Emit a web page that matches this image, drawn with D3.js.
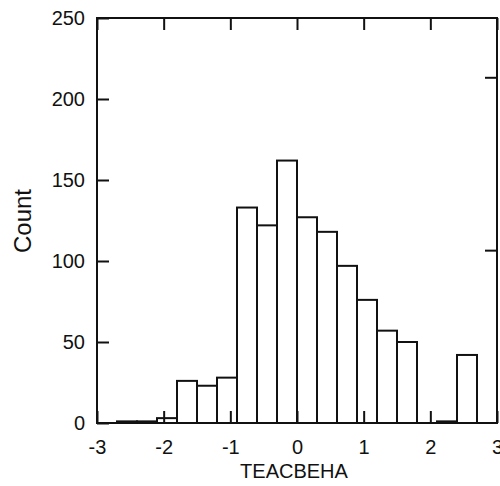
<!DOCTYPE html>
<html>
<head>
<meta charset="utf-8">
<script src="https://cdn.jsdelivr.net/npm/d3@7"></script>
<style>
  html, body { margin: 0; padding: 0; background: #fff; }
  svg { display: block; }
  text { font-family: "Liberation Sans", Arial, sans-serif; fill: #111; }
</style>
</head>
<body>
<svg id="chart" width="500" height="486"></svg>
<script>
// ---- data ----
const binStart = [-3.0, -2.7, -2.4, -2.1, -1.8, -1.5, -1.2, -0.9, -0.6, -0.3, 0.0, 0.3, 0.6, 0.9, 1.2, 1.5, 1.8, 2.1, 2.4, 2.7];
const binEnd   = [-2.7, -2.4, -2.1, -1.8, -1.5, -1.2, -0.9, -0.6, -0.3, 0.0, 0.3, 0.6, 0.9, 1.2, 1.5, 1.8, 2.1, 2.4, 2.7, 3.0];
const counts   = [0, 1, 1, 3, 26, 23, 28, 133, 122, 162, 127, 118, 97, 76, 57, 50, 0, 1, 42, 0];
const xTicks = [-3, -2, -1, 0, 1, 2, 3];
const yTicks = [0, 50, 100, 150, 200, 250];
const propTicks = [0.1, 0.2];
const xTitle = "TEACBEHA";
const yTitle = "Count";

// ---- layout ----
const mLeft = 97, mRight = 497, mTop = 18, mBottom = 423;
const svg = d3.select("#chart");
svg.append("rect").attr("width", 500).attr("height", 486).attr("fill", "#fff");

const x = d3.scaleLinear().domain([-3, 3]).range([mLeft, mRight]);
const y = d3.scaleLinear().domain([0, 250]).range([mBottom, mTop]);
const total = d3.sum(counts);
const yProp = d3.scaleLinear().domain([0, 250 / total]).range([mBottom, mTop]);

const bins = binStart.map((s, i) => ({ x0: s, x1: binEnd[i], n: counts[i] }));

// bars
svg.append("g").selectAll("rect")
  .data(bins.filter(d => d.n > 0))
  .join("rect")
  .attr("x", d => x(d.x0))
  .attr("width", d => x(d.x1) - x(d.x0))
  .attr("y", d => y(d.n))
  .attr("height", d => y(0) - y(d.n))
  .attr("fill", "#fff")
  .attr("stroke", "#111")
  .attr("stroke-width", 2);

const fontSize = 20;
const fmt = d => String(d);
// bottom axis
const gx = svg.append("g").attr("transform", `translate(0,${mBottom})`)
  .call(d3.axisBottom(x).tickValues(xTicks).tickFormat(fmt)
    .tickSizeInner(-12).tickSizeOuter(0).tickPadding(17));
// top axis
const gt = svg.append("g").attr("transform", `translate(0,${mTop})`)
  .call(d3.axisTop(x).tickValues(xTicks).tickFormat("")
    .tickSizeInner(-12).tickSizeOuter(0));
// left axis
const gy = svg.append("g").attr("transform", `translate(${mLeft},0)`)
  .call(d3.axisLeft(y).tickValues(yTicks).tickFormat(fmt)
    .tickSizeInner(-12).tickSizeOuter(0).tickPadding(12));
// right axis (proportion per bar)
const gr = svg.append("g").attr("transform", `translate(${mRight},0)`)
  .call(d3.axisRight(yProp).tickValues(propTicks).tickFormat("")
    .tickSizeInner(-12).tickSizeOuter(0));

[gx, gt, gy, gr].forEach(g => {
  g.select(".domain").remove();
  g.selectAll("line").attr("stroke", "#111").attr("stroke-width", 2);
  g.selectAll("text").attr("font-size", fontSize)
    .attr("font-family", '"Liberation Sans", Arial, sans-serif').attr("fill", "#1a1a1a");
});

// frame
svg.append("rect")
  .attr("x", mLeft).attr("y", mTop)
  .attr("width", mRight - mLeft).attr("height", mBottom - mTop)
  .attr("fill", "none").attr("stroke", "#111").attr("stroke-width", 2);

// titles
svg.append("text")
  .attr("x", (mLeft + mRight) / 2 - 3).attr("y", 478)
  .attr("text-anchor", "middle").attr("font-size", 20)
  .attr("fill", "#1a1a1a")
  .text(xTitle);
svg.append("text")
  .attr("transform", `translate(31,221) rotate(-90)`)
  .attr("text-anchor", "middle").attr("font-size", 24)
  .attr("fill", "#1a1a1a")
  .text(yTitle);
</script>
</body>
</html>
